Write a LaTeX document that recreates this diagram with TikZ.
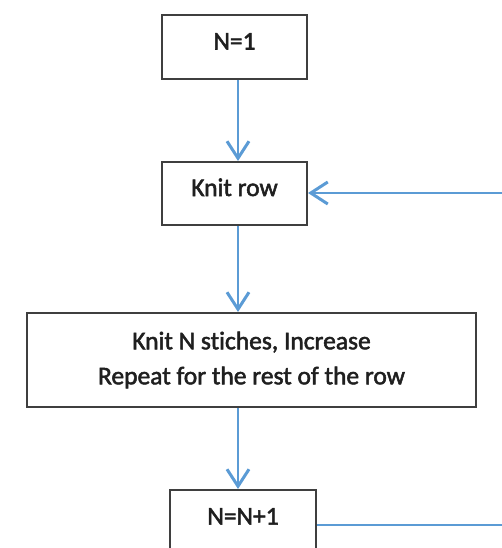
\documentclass[tikz,border=0pt]{standalone}
\usepackage{fontspec}
\setmainfont{Carlito}[Ligatures=NoCommon,FakeBold=2]
\usetikzlibrary{arrows.meta}
\definecolor{flowblue}{HTML}{5B9BD5}
\definecolor{boxgray}{HTML}{3F3F3F}

\begin{document}
\begin{tikzpicture}[x=1pt,y=-1pt,
        font=\fontsize{25.5}{35}\selectfont,
        box/.style={draw=boxgray,line width=2pt,rectangle,inner sep=0pt,align=center,text=black!88},
        onebox/.style={text height=16pt,text depth=11pt},
        flowline/.style={draw=flowblue,line width=2.4pt},
        flow/.style={flowline,-{Straight Barb[length=17pt,width=22pt,line width=3pt]}}]
                \useasboundingbox (0,0) rectangle (502,548);
                \clip (0,0) rectangle (502,548);

                \node[box,onebox,minimum width=145pt,minimum height=64pt] (start) at (234.5,47) {N=1};
                \node[box,onebox,minimum width=145pt,minimum height=63pt] (knit) at (234.5,193.5) {Knit row};
                \node[box,minimum width=449pt,minimum height=94pt] (inc) at (251.5,360)
                        {Knit N stiches, Increase\\Repeat for the rest of the row};
                \node[box,onebox,minimum width=146pt,minimum height=64pt] (next) at (243,522) {N=N+1};

                \coordinate (spine) at (238,0);
                \coordinate (back) at (502,193);
                \coordinate (out) at (502,525);

                \draw[flow] (start.south -| spine) -- (knit.north -| spine);
                \draw[flow] (knit.south -| spine) -- (inc.north -| spine);
                \draw[flow] (inc.south -| spine) -- (next.north -| spine);
                \draw[flow] (back) -- (back -| knit.east);
                \draw[flowline] (next.east |- out) -- (out);
            \end{tikzpicture}
\end{document}
